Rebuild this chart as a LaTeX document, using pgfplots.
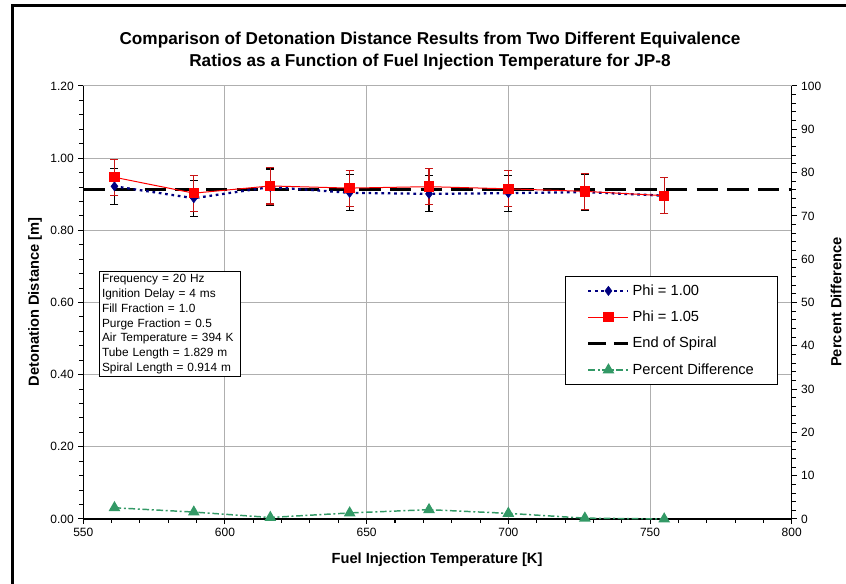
\documentclass[border=0pt]{standalone}
\usepackage{fontspec}
\setmainfont{Liberation Sans}
\usepackage{pgfplots}
\pgfplotsset{compat=1.18}
\definecolor{navyb}{RGB}{0,0,128}
\definecolor{redp}{RGB}{255,0,0}
\definecolor{darkredp}{RGB}{200,20,20}
\definecolor{greenp}{RGB}{51,153,102}
\definecolor{gridc}{RGB}{175,175,175}
\begin{document}
\begin{tikzpicture}[x=0.75pt,y=0.75pt]
\path[use as bounding box] (0,0) rectangle (846,584);
\draw[line width=2.4pt] (12.5,0) -- (12.5,578.3) -- (846,578.3);
\node[anchor=base, font=\fontsize{12.9}{15}\selectfont\bfseries] at (430,539) {Comparison of Detonation Distance Results from Two Different Equivalence};
\node[anchor=base, font=\fontsize{12.9}{15}\selectfont\bfseries] at (430,517) {Ratios as a Function of Fuel Injection Temperature for JP-8};
\node[font=\fontsize{11}{13}\selectfont\bfseries] at (437,24) {Fuel Injection Temperature [K]};
\node[rotate=90, font=\fontsize{11}{13}\selectfont\bfseries] at (35,282) {Detonation Distance [m]};
\node[rotate=90, font=\fontsize{11}{13}\selectfont\bfseries] at (836,282) {Percent Difference};

\begin{axis}[
  at={(62.475pt,48.75pt)}, anchor=south west,
  scale only axis, width=531.3pt, height=324.75pt,
  xmin=550, xmax=800, ymin=0, ymax=1.2,
  axis x line*=bottom, axis y line*=left,
  axis line style={line width=0.9pt, -},
  xtick={550,600,650,700,750,800},
  minor xtick={560,570,580,590,610,620,630,640,660,670,680,690,710,720,730,740,760,770,780,790},
  ytick={0,0.2,0.4,0.6,0.8,1.0,1.2},
  minor ytick={0.04,0.08,0.12,0.16,0.24,0.28,0.32,0.36,0.44,0.48,0.52,0.56,0.64,0.68,0.72,0.76,0.84,0.88,0.92,0.96,1.04,1.08,1.12,1.16},
  yticklabel style={/pgf/number format/.cd, fixed, fixed zerofill, precision=2},
  /pgf/number format/assume math mode=true,
  xticklabel style={/pgf/number format/1000 sep={}},
  tick label style={font=\fontsize{9}{11}\selectfont},
  tick align=outside,
  major tick length=3.6pt, minor tick length=3pt,
  tick style={black, line width=0.75pt},
  grid=major, major grid style={gridc, line width=0.75pt},
  legend style={at={(0.680,0.561)}, anchor=north west, draw=black, line width=0.75pt, fill=white,
    font=\fontsize{11}{13}\selectfont, row sep=6.3pt, inner xsep=16pt, inner ysep=4pt,
    cells={anchor=west}},
  legend cell align=left,
  legend image code/.code={\draw[mark repeat=2,mark phase=2,#1] plot coordinates {(0pt,0pt) (15pt,0pt) (30pt,0pt)};},
]
\addplot[forget plot, black, line width=2.4pt, dash pattern=on 16pt off 7pt] coordinates {(550,0.914) (800,0.914)};
\addplot[navyb, line width=1.7pt, dash pattern=on 2pt off 2.8pt, mark=diamond*, mark size=3.4pt,
  mark options={solid, fill=navyb, draw=navyb, line width=0.5pt},
  error bars/.cd, y dir=both, y fixed=0.05,
  error bar style={black, line width=0.8pt, solid},
  error mark options={rotate=90, black, mark size=3pt, line width=0.8pt, solid}]
  coordinates {(561,0.922) (589,0.889) (616,0.920) (644,0.904) (672,0.901) (700,0.903) (727,0.906) (755,0.896)};
\addlegendentry{Phi = 1.00}
\addplot[redp, line width=0.75pt, mark=square*, mark size=3.5pt,
  mark options={solid, fill=redp, draw=redp},
  error bars/.cd, y dir=both, y fixed=0.05,
  error bar style={darkredp, line width=0.8pt, solid},
  error mark options={rotate=90, darkredp, mark size=3pt, line width=0.8pt, solid}]
  coordinates {(561,0.947) (589,0.903) (616,0.923) (644,0.917) (672,0.921) (700,0.915) (727,0.908) (755,0.896)};
\addlegendentry{Phi = 1.05}
\addlegendimage{black, line width=2.4pt, dash pattern=on 13pt off 6pt}
\addlegendentry{End of Spiral}
\addlegendimage{greenp, line width=1.1pt, dash pattern=on 5pt off 2pt on 1.5pt off 2pt, mark=triangle*, mark size=4pt, mark options={solid, fill=greenp}}
\addlegendentry{Percent Difference}
\node[draw=black, line width=0.75pt, fill=white, anchor=north west, align=left, inner sep=2pt, text width=102pt,
  font=\fontsize{8.9}{11.1}\selectfont] at (axis description cs:0.022,0.572)
  {Frequency = 20 Hz\\Ignition Delay = 4 ms\\Fill Fraction = 1.0\\Purge Fraction = 0.5\\Air Temperature = 394 K\\Tube Length = 1.829 m\\Spiral Length = 0.914 m};
\end{axis}

\begin{axis}[
  at={(62.475pt,48.75pt)}, anchor=south west,
  scale only axis, width=531.3pt, height=324.75pt,
  xmin=550, xmax=800, ymin=0, ymax=100,
  axis x line=none, axis y line*=right,
  axis line style={line width=0.9pt, -},
  ytick={0,10,20,30,40,50,60,70,80,90,100},
  minor ytick={2,4,6,8,12,14,16,18,22,24,26,28,32,34,36,38,42,44,46,48,52,54,56,58,62,64,66,68,72,74,76,78,82,84,86,88,92,94,96,98},
  /pgf/number format/assume math mode=true,
  tick label style={font=\fontsize{9}{11}\selectfont},
  tick align=outside,
  major tick length=3.6pt, minor tick length=3pt,
  tick style={black, line width=0.75pt},
  clip=false,
]
\addplot[greenp, line width=1.1pt, dash pattern=on 5pt off 2pt on 1.5pt off 2pt, mark=triangle*, mark size=4pt,
  mark options={solid, fill=greenp, draw=greenp}]
  coordinates {(561,2.6) (589,1.6) (616,0.35) (644,1.4) (672,2.15) (700,1.3) (727,0.2) (755,0.0)};
\end{axis}
\end{tikzpicture}
\end{document}
